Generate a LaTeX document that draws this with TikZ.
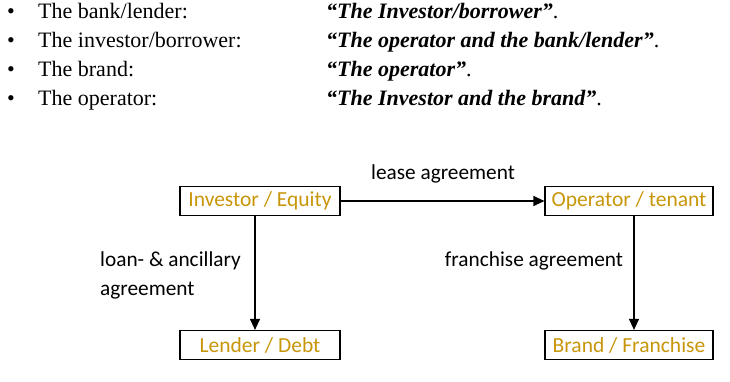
\documentclass[tikz,border=0pt]{standalone}
\usepackage{fontspec}
\setmainfont{Liberation Serif}
\newfontfamily\boxfont{Carlito}
\usetikzlibrary{arrows.meta}
\definecolor{gold}{RGB}{200,150,10}
\begin{document}
\begin{tikzpicture}[x=1pt,y=-1pt,
  box/.style={draw,line width=1.2pt,minimum width=160pt,minimum height=29pt,inner sep=0pt,font=\boxfont\fontsize{21.5}{24}\selectfont,text=gold},
  lbl/.style={font=\boxfont\fontsize{21.3}{29}\selectfont,inner sep=0pt},
  item/.style={anchor=base west,inner sep=0pt,font=\fontsize{22}{24}\selectfont},
  conn/.style={line width=1.2pt,-{Triangle[length=11pt,width=10pt]}}]
\useasboundingbox (0,0) rectangle (730,382);
% bullet list
\foreach \y/\a/\b [count=\i] in {19/{The bank/lender:}/{The Investor/borrower},
   48/{The investor/borrower:}/{The operator and the bank/lender},
   77/{The brand:}/{The operator},
   106/{The operator:}/{The Investor and the brand}}{
  \node[item] (k\i) at (7,\y) {\textbullet};
  \node[item] (l\i) at (38,\y) {\a};
  \node[item] (r\i) at (326,\y) {\textbf{\textit{``\b''}}.};
}
% boxes
\node[box] (inv) at (260,201) {Investor / Equity};
\node[box,minimum width=168pt] (op) at (629,201) {Operator / tenant};
\node[box] (len) at (260,345) {Lender / Debt};
\node[box,minimum width=168pt] (br) at (629,345) {Brand / Franchise};
% connectors
\draw[conn] (inv.east) -- (op.west);
\draw[conn] (inv.south -| 255,0) -- (len.north -| 255,0);
\draw[conn] (op.south -| 634,0) -- (br.north -| 634,0);
% labels
\node[lbl] (la) at (443,174) {lease agreement};
\node[lbl,align=left,anchor=west] (lb) at (100,275) {loan- \& ancillary\\agreement};
\node[lbl] (lc) at (534,261) {franchise agreement};
\end{tikzpicture}
\end{document}
